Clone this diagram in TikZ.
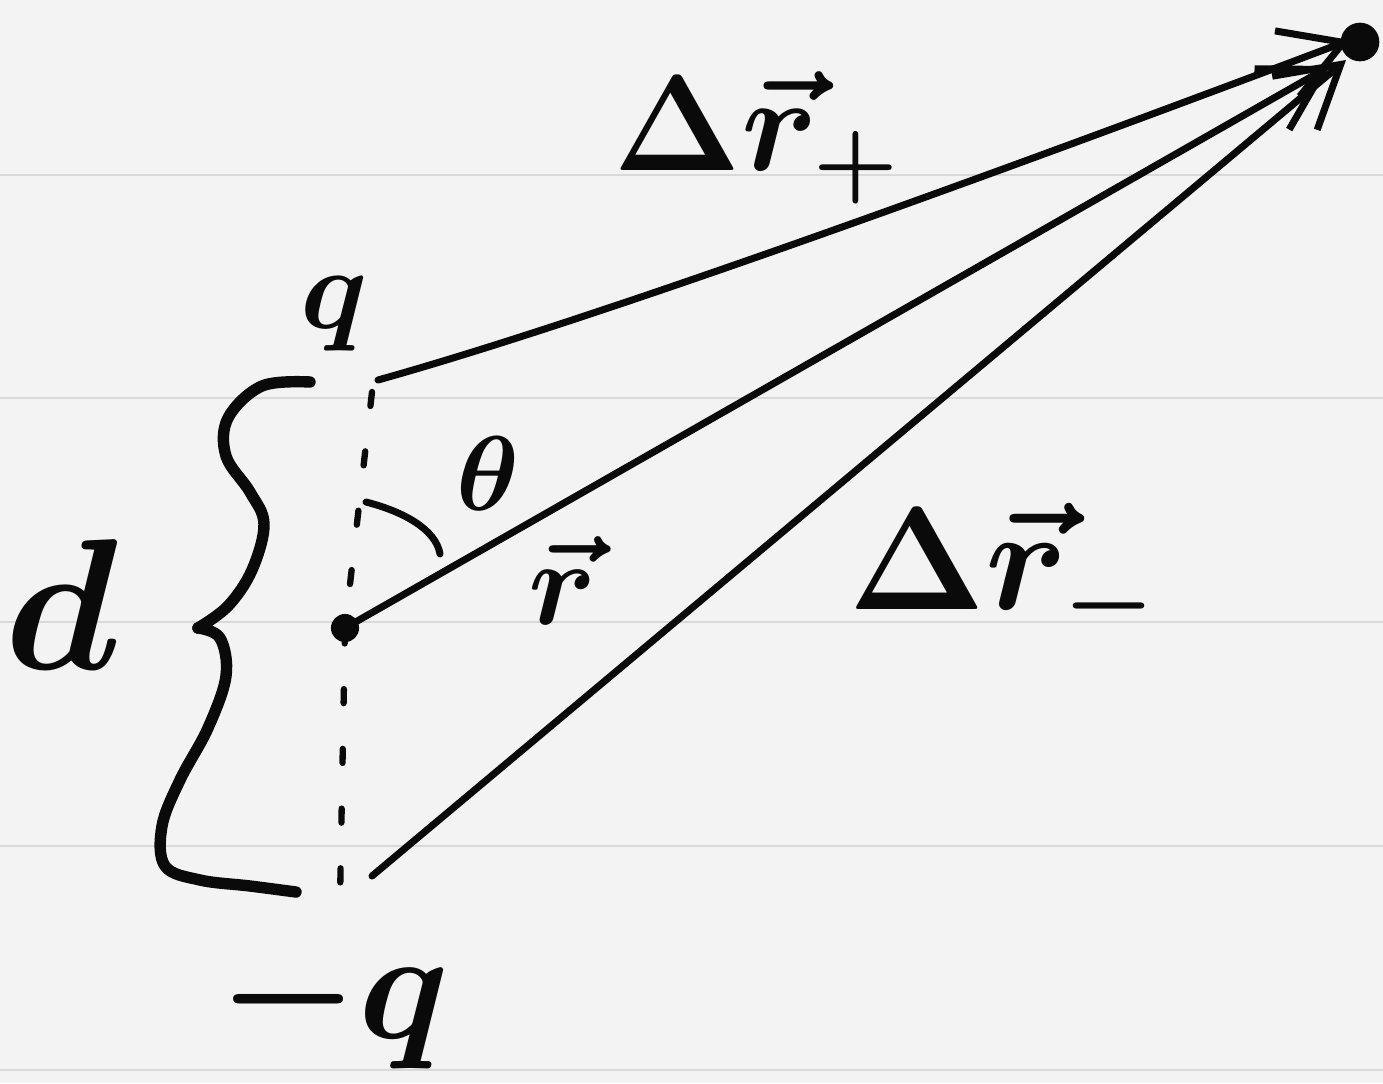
\documentclass[tikz,border=0pt]{standalone}
\usepackage{tikz}
\usetikzlibrary{arrows.meta,positioning}
\definecolor{paper}{HTML}{F3F3F3}
\definecolor{ruling}{HTML}{D9D9D9}
\definecolor{ink}{HTML}{0A0A0A}

\begin{document}
\begin{tikzpicture}[
  x=0.02cm, y=-0.02cm,
  pen/.style={draw=ink, line width=4pt, line cap=round, line join=round},
  vecline/.style={pen, -{Straight Barb[length=1.2cm, width=1.4cm]}},
  dashline/.style={draw=ink, line width=3.6pt, line cap=round, dash pattern=on 8pt off 26pt},
  bracepen/.style={draw=ink, line width=6.5pt, line cap=round, line join=round},
  lbl/.style={text=ink, inner sep=0pt, font=\Large\boldmath},
  charge/.style={circle, fill=ink, inner sep=0pt, minimum size=#1}
]
  % notebook paper
  \useasboundingbox[fill=paper] (0,0) rectangle (1383,1083);
  \foreach \y in {175,398,622,846,1070}
    \draw[ruling, line width=1.3pt] (0,\y) -- (1383,\y);

  % charges and field point
  \coordinate (qp) at (378,380);
  \coordinate (qm) at (372,876);
  \node[charge=22pt] (P) at (1360,42) {};
  \node[charge=16pt] (M) at (345,628) {};
  \coordinate (Pp) at (1350,40);
  \coordinate (Pr) at (1330,66);
  \coordinate (Pm) at (1346,60);

  % dipole axis
  \coordinate (dtop) at (372,392);
  \coordinate (dbot) at (340,900);
  \draw[dashline] (dtop) -- (M.center) -- (dbot);

  % vectors
  \draw[vecline] (qp) .. controls (600,318) and (1000,172) .. (Pp);
  \draw[vecline] (M.center) -- (Pr);
  \draw[vecline] (qm) -- (Pm);

  % angle
  \coordinate (thA) at (366,502);
  \coordinate (thB) at (440,554);
  \draw[pen] (thA) .. controls (405,512) and (436,530) .. (thB);

  % brace for d
  \draw[bracepen] plot[smooth, tension=0.6] coordinates
    {(310,382) (262,386) (228,418) (226,456) (250,492) (264,524) (252,570) (228,606) (198,628)};
  \draw[bracepen] plot[smooth, tension=0.6] coordinates
    {(198,628) (220,638) (226,676) (208,728) (180,780) (162,826) (165,866) (200,880) (250,886) (296,892)};

  % labels
  \node[lbl, scale=4.6] (lq) at (334,314) {$q$};
  \node[lbl, scale=6.2] (lmq) at (334,1004) {$-q$};
  \node[lbl, scale=7.4] (ld) at (62,604) {$d$};
  \node[lbl, scale=4.2] (lth) at (488,474) {$\theta$};
  \node[lbl, scale=4.8] (lr) at (563,580) {$\vec r$};
  \node[lbl, scale=5.4] (lrp) at (758,138) {$\Delta\vec r_+$};
  \node[lbl, scale=5.8] (lrm) at (1004,574) {$\Delta\vec r_-$};
\end{tikzpicture}
\end{document}
